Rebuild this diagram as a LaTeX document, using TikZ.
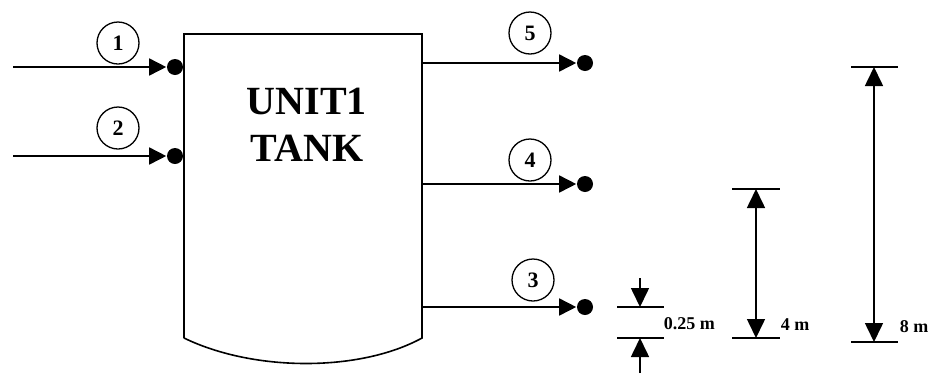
\documentclass[tikz,border=0pt]{standalone}
\usepackage{fontspec}
\setmainfont{Liberation Serif}
\usetikzlibrary{arrows.meta}
\begin{document}
\begin{tikzpicture}[x=1pt,y=-1pt,
  line width=1.6pt,
  flow/.style={-{Triangle[length=17pt,width=17pt]}},
  port/.style={circle,fill,inner sep=0pt,minimum size=16pt},
  tag/.style={circle,draw,line width=1.3pt,minimum size=42pt,inner sep=0pt,
    font=\bfseries\fontsize{22}{22}\selectfont},
  dimtip/.style={-{Triangle[length=19pt,width=18pt]}},
  dimboth/.style={{Triangle[length=19pt,width=18pt]}-{Triangle[length=19pt,width=18pt]}},
  dimlabel/.style={font=\bfseries\fontsize{18}{18}\selectfont,anchor=west,inner sep=0pt},
  title/.style={font=\bfseries\fontsize{40}{47}\selectfont,align=center}
]
\useasboundingbox (0,0) rectangle (930,373);

% tank body with curved bottom
\draw (184,338) -- (184,34) -- (422,34) -- (422,338)
      .. controls (360,372) and (254,372) .. (184,338);
\node[title] (tank) at (307,125) {UNIT1\\TANK};

% inlet streams
\coordinate (in1) at (13,67);
\coordinate (in2) at (13,156);
\node[port] (p1) at (175,67) {};
\node[port] (p2) at (175,156) {};
\draw[flow] (in1) -- (p1.west);
\draw[flow] (in2) -- (p2.west);
\node[tag] (t1) at (118,43) {1};
\node[tag] (t2) at (118,128) {2};

% outlet streams
\coordinate (o5) at (422,63);
\coordinate (o4) at (422,184);
\coordinate (o3) at (422,307);
\node[port] (p5) at (585,63) {};
\node[port] (p4) at (585,184) {};
\node[port] (p3) at (585,307) {};
\draw[flow] (o5) -- (p5.west);
\draw[flow] (o4) -- (p4.west);
\draw[flow] (o3) -- (p3.west);
\node[tag] (t5) at (530,33) {5};
\node[tag] (t4) at (530,160) {4};
\node[tag] (t3) at (533,280) {3};

% dimension: 0.25 m
\coordinate (a1) at (617,307); \coordinate (a2) at (664,307);
\coordinate (b1) at (617,338); \coordinate (b2) at (664,338);
\draw (a1) -- (a2);
\draw (b1) -- (b2);
\coordinate (qa) at (640,278); \coordinate (qat) at (640,307);
\coordinate (qb) at (640,373); \coordinate (qbt) at (640,338);
\draw[dimtip] (qa) -- (qat);
\draw[dimtip] (qb) -- (qbt);
\node[dimlabel] (d025) at (663,324) {0.25 m};

% dimension: 4 m
\coordinate (c1) at (732,189); \coordinate (c2) at (780,189);
\coordinate (e1) at (732,338); \coordinate (e2) at (780,338);
\draw (c1) -- (c2);
\draw (e1) -- (e2);
\coordinate (r1) at (756,189); \coordinate (r2) at (756,338);
\draw[dimboth] (r1) -- (r2);
\node[dimlabel] (d4) at (780,325) {4 m};

% dimension: 8 m
\coordinate (f1) at (851,67); \coordinate (f2) at (898,67);
\coordinate (g1) at (851,342); \coordinate (g2) at (898,342);
\draw (f1) -- (f2);
\draw (g1) -- (g2);
\coordinate (s1) at (874,67); \coordinate (s2) at (874,342);
\draw[dimboth] (s1) -- (s2);
\node[dimlabel] (d8) at (899,327) {8 m};
\end{tikzpicture}
\end{document}
